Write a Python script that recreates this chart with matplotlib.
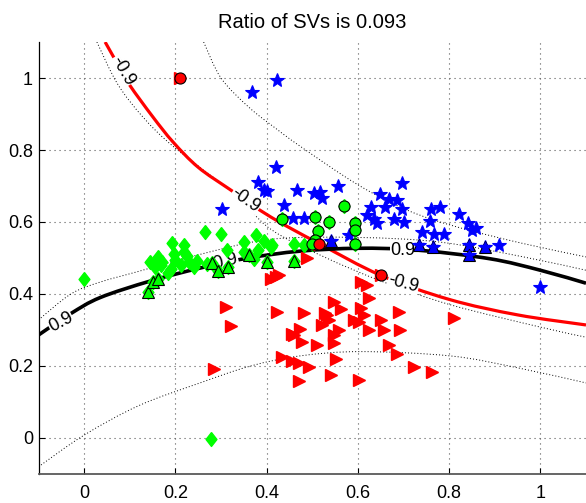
import matplotlib
matplotlib.use("Agg")
import matplotlib.pyplot as plt
from matplotlib.path import Path
from matplotlib.patches import PathPatch
import numpy as np

plt.rcParams['font.family'] = ['Liberation Sans', 'DejaVu Sans']

# ---------------- data ----------------
title_text = "Ratio of SVs is 0.093"
tick_vals = [0, 0.2, 0.4, 0.6, 0.8, 1.0]
tick_labels = ["0", "0.2", "0.4", "0.6", "0.8", "1"]

blue_x = [0.367, 0.423, 0.420, 0.380, 0.394, 0.400, 0.302, 0.437, 0.458, 0.482,
          0.467, 0.504, 0.518, 0.522, 0.557, 0.697, 0.648, 0.668, 0.686, 0.628,
          0.660, 0.697, 0.620, 0.635, 0.679, 0.701, 0.642, 0.580, 0.761, 0.781,
          0.821, 0.758, 0.842, 0.850, 0.858, 0.741, 0.766, 0.788, 0.910, 1.000]
blue_y = [0.961, 0.994, 0.753, 0.711, 0.690, 0.685, 0.637, 0.646, 0.611, 0.611,
          0.690, 0.680, 0.683, 0.668, 0.701, 0.707, 0.679, 0.665, 0.660, 0.642,
          0.642, 0.637, 0.619, 0.609, 0.609, 0.600, 0.596, 0.563, 0.637, 0.642,
          0.621, 0.602, 0.596, 0.577, 0.582, 0.572, 0.566, 0.568, 0.535, 0.420]

green_x = [0.000, 0.277, 0.266, 0.301, 0.193, 0.219, 0.197, 0.219, 0.145, 0.162,
           0.168, 0.190, 0.212, 0.183, 0.248, 0.270, 0.314, 0.350, 0.376, 0.394,
           0.409, 0.350, 0.380, 0.372, 0.412, 0.460, 0.482, 0.230, 0.240, 0.170,
           0.155, 0.200, 0.225]
green_y = [0.443, -0.002, 0.571, 0.566, 0.543, 0.535, 0.512, 0.517, 0.489, 0.503,
           0.480, 0.470, 0.480, 0.457, 0.493, 0.484, 0.521, 0.544, 0.563, 0.546,
           0.531, 0.517, 0.521, 0.498, 0.535, 0.538, 0.535, 0.490, 0.475, 0.490,
           0.475, 0.495, 0.505]

red_x = [0.409, 0.420, 0.427, 0.606, 0.621, 0.624, 0.423, 0.482, 0.529, 0.547,
         0.562, 0.606, 0.613, 0.591, 0.602, 0.536, 0.522, 0.650, 0.690, 0.624,
         0.657, 0.693, 0.558, 0.547, 0.460, 0.474, 0.478, 0.511, 0.547, 0.668,
         0.686, 0.434, 0.456, 0.471, 0.493, 0.551, 0.723, 0.763, 0.471, 0.540,
         0.602, 0.310, 0.321, 0.284, 0.810, 0.489, 0.533, 0.456]
red_y = [0.443, 0.447, 0.452, 0.433, 0.424, 0.389, 0.350, 0.348, 0.348, 0.378,
         0.359, 0.361, 0.341, 0.327, 0.322, 0.327, 0.313, 0.327, 0.350, 0.299,
         0.299, 0.299, 0.299, 0.285, 0.285, 0.304, 0.267, 0.258, 0.265, 0.258,
         0.232, 0.225, 0.213, 0.207, 0.197, 0.220, 0.197, 0.183, 0.157, 0.174,
         0.160, 0.364, 0.310, 0.193, 0.332, 0.500, 0.341, 0.290]

# support vectors
blue_sv_x = [0.540, 0.735, 0.765, 0.843, 0.843, 0.879]
blue_sv_y = [0.548, 0.535, 0.530, 0.535, 0.508, 0.530]
green_tri_sv_x = [0.139, 0.150, 0.161, 0.281, 0.294, 0.315, 0.362, 0.400, 0.460]
green_tri_sv_y = [0.405, 0.433, 0.441, 0.487, 0.463, 0.476, 0.507, 0.488, 0.491]
green_circ_sv_x = [0.434, 0.569, 0.507, 0.536, 0.513, 0.507, 0.593, 0.593, 0.593, 0.500]
green_circ_sv_y = [0.609, 0.644, 0.614, 0.600, 0.575, 0.549, 0.596, 0.577, 0.538, 0.540]
red_sv_x = [0.210, 0.515, 0.650]
red_sv_y = [1.000, 0.540, 0.452]

# decision boundaries (solid) and margin contours (dotted)
red_curve_x = [0.046, 0.075, 0.100, 0.150, 0.195, 0.250, 0.320, 0.409, 0.515, 0.650, 0.800, 0.950, 1.100]
red_curve_y = [1.100, 1.035, 0.980, 0.893, 0.822, 0.752, 0.690, 0.614, 0.540, 0.452, 0.385, 0.342, 0.314]
black_curve_x = [-0.100, -0.030, 0.035, 0.145, 0.254, 0.360, 0.473, 0.600, 0.730, 0.889, 1.000, 1.100]
black_curve_y = [0.286, 0.345, 0.390, 0.436, 0.472, 0.500, 0.519, 0.527, 0.522, 0.498, 0.466, 0.430]
dot_a_x = [0.262, 0.300, 0.360, 0.420, 0.474, 0.598, 0.708, 0.818, 0.963, 1.100]
dot_a_y = [1.100, 1.000, 0.920, 0.860, 0.810, 0.705, 0.633, 0.586, 0.540, 0.503]
dot_b_x = [0.028, 0.073, 0.130, 0.197, 0.328, 0.409, 0.526, 0.657, 0.803, 1.000, 1.100]
dot_b_y = [1.100, 0.984, 0.890, 0.808, 0.679, 0.580, 0.503, 0.433, 0.370, 0.308, 0.280]
dot_c_x = [-0.100, -0.029, 0.035, 0.117, 0.254, 0.409, 0.600, 0.781, 0.963, 1.100]
dot_c_y = [0.328, 0.400, 0.433, 0.462, 0.510, 0.552, 0.557, 0.544, 0.503, 0.466]
dot_d_x = [-0.100, 0.000, 0.120, 0.254, 0.365, 0.473, 0.606, 0.803, 0.950, 1.100]
dot_d_y = [-0.080, 0.008, 0.090, 0.153, 0.200, 0.228, 0.240, 0.228, 0.195, 0.153]

label_text = ["-0.9", "-0.9", "0.9", "0.9", "0.9", "-0.9"]
label_x = [0.084, 0.354, 0.310, -0.051, 0.698, 0.700]
label_y = [1.020, 0.660, 0.490, 0.322, 0.522, 0.430]
label_rot = [-60, -35, 14, 28, 0, -15]


def smooth_path(xs, ys):
    """Catmull-Rom through the read points, handed to matplotlib as cubic Bezier path."""
    p = np.column_stack([xs, ys]).astype(float)
    n = len(p)
    verts = [p[0]]
    codes = [Path.MOVETO]
    for i in range(n - 1):
        p0 = p[i - 1] if i > 0 else p[i]
        p1, p2 = p[i], p[i + 1]
        p3 = p[i + 2] if i + 2 < n else p[i + 1]
        verts += [p1 + (p2 - p0) / 6.0, p2 - (p3 - p1) / 6.0, p2]
        codes += [Path.CURVE4] * 3
    return Path(np.array(verts), codes)


# ---------------- figure ----------------
W, H = 586, 503
fig = plt.figure(figsize=(W / 100, H / 100), dpi=100)
ax = fig.add_axes([38.5 / W, 29 / H, (W - 38.5) / W, 432 / H])
ax.set_xlim(-0.1, 1.1)
ax.set_ylim(-0.1, 1.1)

ax.set_xticks(tick_vals)
ax.set_xticklabels(tick_labels)
ax.set_yticks(tick_vals)
ax.set_yticklabels(tick_labels)
ax.tick_params(direction='in', length=4, width=0.8, labelsize=13, colors='black')
ax.tick_params(axis='x', pad=8)
ax.tick_params(axis='y', pad=4)
ax.grid(True, color='0.35', linestyle=(0, (1, 3.5)), linewidth=0.8)
ax.set_axisbelow(True)
ax.spines['top'].set_visible(False)
ax.spines['right'].set_visible(False)
ax.spines['left'].set_linewidth(0.9)
ax.spines['bottom'].set_color('0.35')
ax.spines['bottom'].set_linewidth(1.3)

for xs, ys in [(dot_a_x, dot_a_y), (dot_b_x, dot_b_y), (dot_c_x, dot_c_y), (dot_d_x, dot_d_y)]:
    ax.add_patch(PathPatch(smooth_path(xs, ys), fill=False, edgecolor='black',
                           linestyle=(0, (1, 2.2)), linewidth=0.7, zorder=2))

ax.add_patch(PathPatch(smooth_path(red_curve_x, red_curve_y), fill=False,
                       edgecolor='red', linewidth=2.3, zorder=3, capstyle='butt'))
ax.add_patch(PathPatch(smooth_path(black_curve_x, black_curve_y), fill=False,
                       edgecolor='black', linewidth=2.6, zorder=3, capstyle='butt'))

for t, x, y, r in zip(label_text, label_x, label_y, label_rot):
    ax.text(x, y, t, fontsize=13, rotation=r, rotation_mode='anchor',
            ha='center', va='center', zorder=4,
            bbox=dict(boxstyle='square,pad=0.02', fc='white', ec='none'))

diamond = [(0, 1), (0.78, 0), (0, -1), (-0.78, 0), (0, 1)]
ax.plot(green_x + green_tri_sv_x + green_circ_sv_x,
        green_y + green_tri_sv_y + green_circ_sv_y,
        linestyle='none', marker=diamond, markersize=10,
        color='#00ff00', markeredgecolor='#00ff00', zorder=5)
ax.plot(red_x + red_sv_x, red_y + red_sv_y, linestyle='none', marker='>',
        markersize=8.5, color='red', markeredgecolor='red', zorder=5)
ax.plot(blue_x + blue_sv_x, blue_y + blue_sv_y, linestyle='none', marker='*',
        markersize=10.5, color='blue', markeredgecolor='blue', markeredgewidth=0.8, zorder=5)

ax.plot(green_tri_sv_x, green_tri_sv_y, linestyle='none', marker='^', markersize=8.5,
        markerfacecolor='#00ff00', markeredgecolor='black', markeredgewidth=0.8, zorder=6)
ax.plot(blue_sv_x, blue_sv_y, linestyle='none', marker='^', markersize=8.5,
        markerfacecolor='blue', markeredgecolor='black', markeredgewidth=0.8, zorder=6)
ax.plot(blue_sv_x, blue_sv_y, linestyle='none', marker='*', markersize=7.5,
        color='blue', markeredgecolor='blue', zorder=6)
ax.plot(green_circ_sv_x, green_circ_sv_y, linestyle='none', marker='o', markersize=8,
        markerfacecolor='#00ff00', markeredgecolor='black', markeredgewidth=0.8, zorder=6)
ax.plot(red_sv_x, red_sv_y, linestyle='none', marker='o', markersize=8,
        markerfacecolor='red', markeredgecolor='black', markeredgewidth=0.8, zorder=6)

ax.set_title(title_text, fontsize=14.5, pad=10)

fig.savefig('out.png', dpi=100)
